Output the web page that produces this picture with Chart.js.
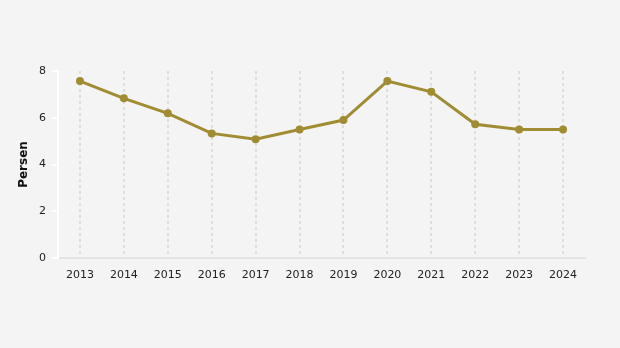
<!DOCTYPE html>
<html>
<head>
<meta charset="utf-8">
<script src="https://cdn.jsdelivr.net/npm/chart.js@4"></script>
<style>
  html, body { margin: 0; padding: 0; background: #f4f4f4; }
  #wrap { width: 620px; height: 348px; }
</style>
</head>
<body>
<div id="wrap"><canvas id="persenChart" width="620" height="348"></canvas></div>
<script>
const years = ['2013', '2014', '2015', '2016', '2017', '2018', '2019', '2020', '2021', '2022', '2023', '2024'];
const persen = [7.57, 6.83, 6.19, 5.33, 5.08, 5.50, 5.90, 7.57, 7.11, 5.72, 5.50, 5.50];
const yTicks = [0, 2, 4, 6, 8];

const lineColor = '#a08c32';

const persenChart = document.getElementById('persenChart');

new Chart(persenChart, {
    type: 'line',
    data: {
        labels: years,
        datasets: [{
            label: 'Persen',
            data: persen,
            borderColor: lineColor,
            backgroundColor: lineColor,
            borderWidth: 3,
            pointRadius: 4,
            pointHoverRadius: 5,
            pointBorderWidth: 0,
            tension: 0
        }]
    },
    options: {
        responsive: false,
        animation: false,
        layout: {
            padding: { top: 71, right: 35, left: 17, bottom: 0 }
        },
        plugins: {
            legend: { display: false },
            tooltip: { enabled: false }
        },
        scales: {
            x: {
                offset: true,
                grid: {
                    offset: false,
                    color: '#dedede',
                    lineWidth: 2,
                    drawTicks: false
                },
                border: {
                    color: '#e4e4e4',
                    width: 2,
                    dash: [3, 3]
                },
                ticks: {
                    padding: 11,
                    color: '#222',
                    font: { family: 'DejaVu Sans', size: 11 },
                    maxRotation: 0
                },
                afterFit: function(axis) { axis.height = 90; }
            },
            y: {
                min: 0,
                max: 8,
                afterBuildTicks: function(axis) {
                    axis.ticks = yTicks.map(v => ({ value: v }));
                },
                grid: {
                    drawOnChartArea: false,
                    drawTicks: true,
                    tickLength: 6,
                    color: '#ffffff',
                    lineWidth: 2
                },
                border: {
                    color: '#ffffff',
                    width: 2
                },
                ticks: {
                    padding: 6,
                    color: '#222',
                    font: { family: 'DejaVu Sans', size: 11 }
                },
                title: {
                    display: true,
                    text: 'Persen',
                    color: '#111',
                    font: { family: 'DejaVu Sans', size: 12, weight: 'bold' },
                    padding: { top: 0, bottom: 0 }
                },
                afterFit: function(axis) { axis.width = 41; }
            }
        }
    }
});
</script>
</body>
</html>
